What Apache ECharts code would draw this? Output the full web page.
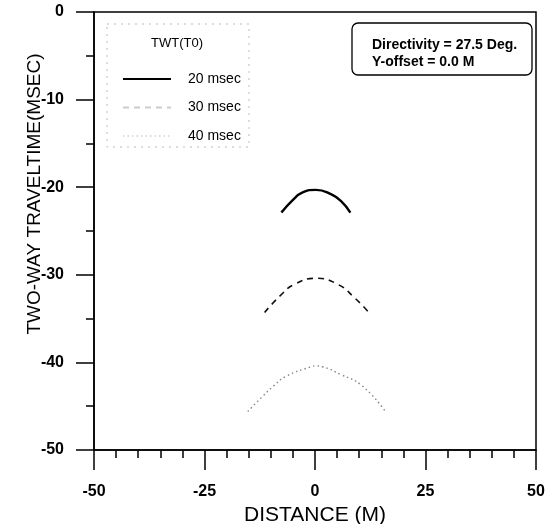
<!DOCTYPE html>
<html>
<head>
<meta charset="utf-8">
<script src="https://cdn.jsdelivr.net/npm/echarts@6/dist/echarts.min.js"></script>
<style>
  html, body { margin: 0; padding: 0; background: #fff; }
  #main { width: 554px; height: 524px; }
</style>
</head>
<body>
<div id="main"></div>
<script>
// distance (M) / two-way travel time (msec)
const names = ['20 msec', '30 msec', '40 msec']
const dist20 = [-7.6, -5.1, -2.8, 0.2, 3.6, 5.9, 8.0]
const twt20 = [-22.9, -21.5, -20.6, -20.3, -20.8, -21.6, -22.9]
const dist30 = [-11.4, -7.7, -4.7, 0.2, 5.2, 8.9, 12.0]
const twt30 = [-34.3, -32.3, -31.1, -30.4, -31.1, -32.6, -34.2]
const dist40 = [-15.2, -11.7, -9.4, -6.6, -0.9, 0.2, 1.7, 5.9, 10.5, 15.8]
const twt40 = [-45.6, -43.8, -42.7, -41.6, -40.5, -40.4, -40.5, -41.4, -42.6, -45.5]
const xTicks = [-50, -25, 0, 25, 50]
const yTicks = [0, -10, -20, -30, -40, -50]
const noteLines = ['Directivity = 27.5 Deg.', 'Y-offset = 0.0 M']

const font = '"Liberation Sans", Arial, sans-serif'
const pairs = (xs, ys) => xs.map((x, i) => [x, ys[i]])

const chart = echarts.init(document.getElementById('main'))

const option = {
  animation: false,
  backgroundColor: '#fff',
  grid: {
    left: 94,
    right: 18,
    top: 12,
    bottom: 74,
    outerBoundsMode: 'none',
    show: true,
    borderColor: '#000',
    borderWidth: 1.5,
  },
  legend: {
    orient: 'vertical',
    left: 117,
    top: 67,
    itemWidth: 48,
    itemHeight: 14,
    itemGap: 14.5,
    itemStyle: { opacity: 0 },
    data: [
      { name: names[0] },
      { name: names[1], lineStyle: { color: '#ccc' } },
      { name: names[2], lineStyle: { color: '#ddd' } },
    ],
    textStyle: { fontFamily: font, fontSize: 14, color: '#000', padding: [0, 0, 0, 12] },
  },
  xAxis: {
    type: 'value',
    min: xTicks[0],
    max: xTicks[xTicks.length - 1],
    interval: 25,
    name: 'DISTANCE (M)',
    nameLocation: 'middle',
    nameGap: 54,
    nameTextStyle: { fontFamily: font, fontSize: 21, color: '#000' },
    axisLine: { onZero: false, lineStyle: { color: '#000', width: 1.5 } },
    axisTick: { inside: false, length: 20, lineStyle: { color: '#000', width: 1.5 } },
    minorTick: { show: true, splitNumber: 5, length: 8, lineStyle: { color: '#000', width: 1.5 } },
    axisLabel: { margin: 34, fontFamily: font, fontSize: 16, fontWeight: 'bold', color: '#000' },
    splitLine: { show: false },
  },
  yAxis: {
    type: 'value',
    min: yTicks[yTicks.length - 1],
    max: yTicks[0],
    interval: 10,
    axisLine: { onZero: false, lineStyle: { color: '#000', width: 1.5 } },
    axisTick: { inside: false, length: 18, lineStyle: { color: '#000', width: 1.5 } },
    minorTick: { show: true, splitNumber: 2, length: 8, lineStyle: { color: '#000', width: 1.5 } },
    axisLabel: { margin: 30, fontFamily: font, fontSize: 16, fontWeight: 'bold', color: '#000' },
    splitLine: { show: false },
  },
  series: [
    {
      name: names[0],
      type: 'line',
      smooth: true,
      symbol: 'none',
      data: pairs(dist20, twt20),
      lineStyle: { color: '#000', width: 2.4 },
      itemStyle: { color: '#000' },
    },
    {
      name: names[1],
      type: 'line',
      smooth: true,
      symbol: 'none',
      data: pairs(dist30, twt30),
      lineStyle: { color: '#111', width: 1.6, type: [6, 5] },
      itemStyle: { color: '#111' },
    },
    {
      name: names[2],
      type: 'line',
      smooth: true,
      symbol: 'none',
      data: pairs(dist40, twt40),
      lineStyle: { color: '#888', width: 1.4, type: [1.5, 3] },
      itemStyle: { color: '#888' },
    },
  ],
  graphic: [
    // y axis title, placed by hand since it sits above the middle
    {
      type: 'text',
      x: 35,
      y: 194,
      rotation: Math.PI / 2,
      style: {
        text: 'TWO-WAY TRAVELTIME(MSEC)',
        fontFamily: font,
        fontSize: 19,
        fill: '#000',
        align: 'center',
        verticalAlign: 'middle',
      },
    },
    // faint legend box + its heading
    {
      type: 'rect',
      shape: { x: 107, y: 24, width: 142, height: 123 },
      style: { fill: 'none', stroke: '#bbb', lineWidth: 1, lineDash: [2, 5] },
    },
    {
      type: 'text',
      x: 177,
      y: 43,
      style: {
        text: 'TWT(T0)',
        fontFamily: font,
        fontSize: 13,
        fill: '#000',
        align: 'center',
        verticalAlign: 'middle',
      },
    },
    // directivity note
    {
      type: 'rect',
      shape: { x: 352, y: 23, width: 180, height: 52, r: 6 },
      style: { fill: '#fff', stroke: '#000', lineWidth: 1.3 },
    },
    {
      type: 'text',
      x: 372,
      y: 45,
      style: {
        text: noteLines[0],
        fontFamily: font,
        fontSize: 14,
        fontWeight: 'bold',
        fill: '#000',
        verticalAlign: 'middle',
      },
    },
    {
      type: 'text',
      x: 372,
      y: 62,
      style: {
        text: noteLines[1],
        fontFamily: font,
        fontSize: 14,
        fontWeight: 'bold',
        fill: '#000',
        verticalAlign: 'middle',
      },
    },
  ],
}

chart.setOption(option)
</script>
</body>
</html>
